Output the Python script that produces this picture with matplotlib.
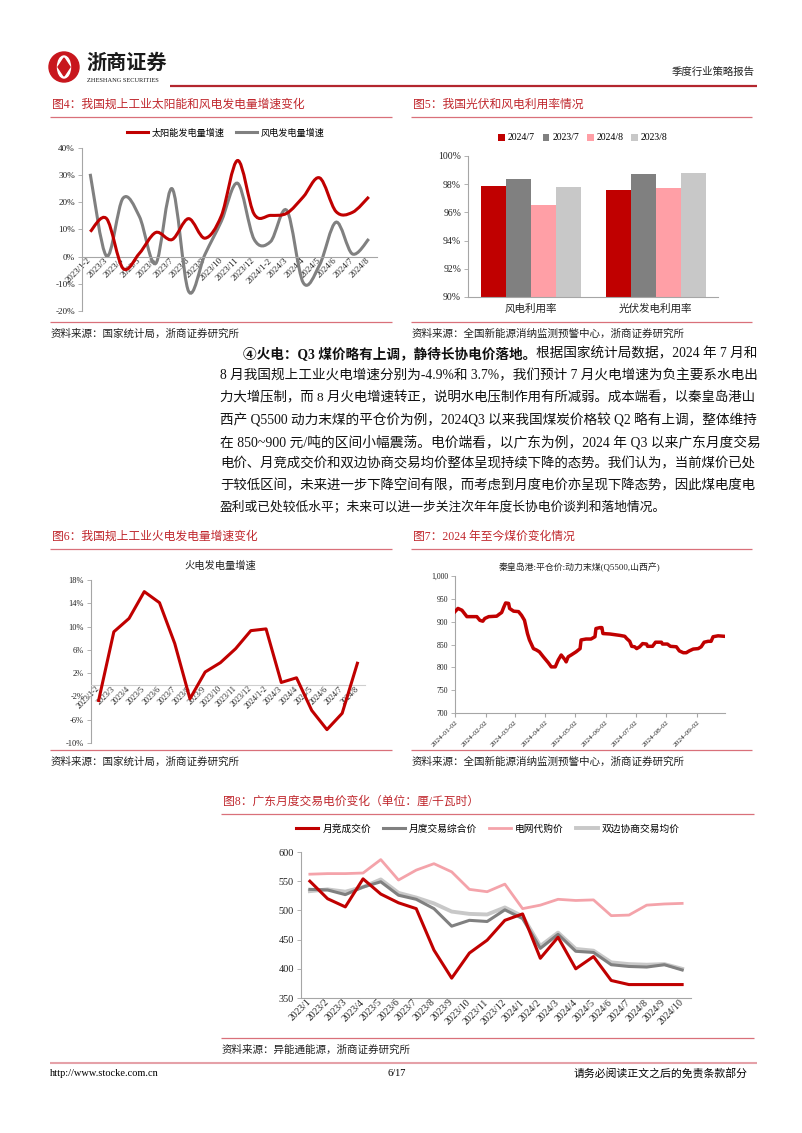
import numpy as np
import pandas as pd
import matplotlib
matplotlib.use('Agg')
import matplotlib.pyplot as plt
import matplotlib.dates as mdates
from matplotlib.path import Path
from matplotlib.patches import PathPatch, Circle, Ellipse, Polygon
from matplotlib.lines import Line2D
from matplotlib.ticker import FuncFormatter

W, H = 802, 1133
FONTS = ['Liberation Serif', 'Noto Sans CJK SC']
plt.rcParams['font.family'] = FONTS
plt.rcParams['axes.unicode_minus'] = False

RED = '#C00000'
GRAY = '#808080'
PINK = '#F4A3AA'
LGRAY = '#C8C8C8'
TITLE_RED = '#C0272D'
RULE = '#D9707A'
AXC = '#A6A6A6'

# ---------------- data ----------------
# fig 4: solar / wind generation growth (%)
months_a = ['2023/1-2', '2023/3', '2023/4', '2023/5', '2023/6', '2023/7', '2023/8', '2023/9',
            '2023/10', '2023/11', '2023/12', '2024/1-2', '2024/3', '2024/4', '2024/5', '2024/6',
            '2024/7', '2024/8']
solar = [9.2, 14.0, -4.3, 1.2, 8.9, 6.3, 14.0, 6.8, 15.0, 35.4, 15.7, 15.2, 16.0, 22.0, 29.0,
         16.6, 16.3, 22.0]
wind = [30.5, 0.2, 21.5, 14.8, -2.5, 25.0, -12.7, 0.8, 13.0, 27.0, 6.4, 5.5, 17.0, -9.6, -3.0,
        12.7, 1.0, 6.5]

# fig 5: utilisation rate (%)
util_cats = ['风电利用率', '光伏发电利用率']
util_names = ['2024/7', '2023/7', '2024/8', '2023/8']
util_2024_7 = [97.9, 97.6]
util_2023_7 = [98.4, 98.7]
util_2024_8 = [96.5, 97.7]
util_2023_8 = [97.8, 98.8]

# fig 6: thermal generation growth (%)
thermal = [-2.7, 9.1, 11.4, 16.0, 14.1, 7.1, -2.4, 2.2, 3.8, 6.2, 9.3, 9.6, 0.4, 1.2, -4.4,
           -7.7, -4.9, 3.7]

# fig 7: Qinhuangdao coal price
coal_dates = ['01-02', '01-05', '01-09', '01-14', '01-24', '01-27', '01-30', '02-01', '02-05',
              '02-13', '02-16', '02-18', '02-20', '02-22', '02-25', '02-26', '03-01', '03-06',
              '03-09', '03-12', '03-15', '03-17', '03-21', '03-24', '03-27', '03-31', '04-05',
              '04-08', '04-12', '04-15', '04-18', '04-22', '04-23', '04-25', '04-28', '05-03',
              '05-07', '05-08', '05-13', '05-18', '05-22', '05-23', '05-27', '05-29', '05-30',
              '06-06', '06-16', '06-21', '06-23', '06-26', '06-28', '07-01', '07-03', '07-06',
              '07-09', '07-13', '07-14', '07-19', '07-22', '07-28', '07-29', '08-03', '08-06',
              '08-12', '08-15', '08-19', '08-22', '08-25', '08-29', '09-03', '09-06', '09-09',
              '09-13', '09-16', '09-18', '09-23', '09-29']
coal_price = [922, 929, 925, 911, 911, 903, 901, 907, 911, 912, 917, 920, 931, 941, 940, 929,
              923, 922, 914, 903, 874, 860, 841, 838, 834, 823, 810, 801, 801, 816, 827, 816,
              812, 823, 827, 834, 841, 860, 862, 862, 867, 885, 887, 887, 874, 873, 870, 868,
              863, 857, 846, 845, 841, 845, 852, 851, 846, 846, 855, 855, 851, 851, 846, 845,
              836, 832, 832, 836, 840, 841, 845, 855, 857, 857, 867, 869, 868]
coal_ticks = ['2024-01-02', '2024-02-02', '2024-03-02', '2024-04-02', '2024-05-02',
              '2024-06-02', '2024-07-02', '2024-08-02', '2024-09-02']

# fig 8: Guangdong monthly power prices
months_b = ['2023/1', '2023/2', '2023/3', '2023/4', '2023/5', '2023/6', '2023/7', '2023/8',
            '2023/9', '2023/10', '2023/11', '2023/12', '2024/1', '2024/2', '2024/3', '2024/4',
            '2024/5', '2024/6', '2024/7', '2024/8', '2024/9', '2024/10']
bid_price = [550, 520, 506, 554, 528, 513, 503, 432, 384, 427, 449, 483, 494, 418, 454, 400,
             421, 380, 373, 373, 373, 373]
mix_price = [536, 535, 527, 540, 549, 526, 519, 503, 473, 483, 481, 501, 486, 435, 459, 430,
             428, 407, 404, 403, 407, 398]
grid_price = [562, 563, 563, 564, 587, 552, 569, 580, 566, 536, 532, 545, 503, 509, 519, 517,
              518, 491, 492, 509, 511, 512]
bilat_price = [533, 536, 532, 540, 553, 530, 522, 512, 498, 494, 493, 505, 490, 439, 462, 434,
               431, 411, 408, 407, 408, 400]

paragraph = [
    '8 月我国规上工业火电增速分别为-4.9%和 3.7%，我们预计 7 月火电增速为负主要系水电出',
    '力大增压制，而 8 月火电增速转正，说明水电压制作用有所减弱。成本端看，以秦皇岛港山',
    '西产 Q5500 动力末煤的平仓价为例，2024Q3 以来我国煤炭价格较 Q2 略有上调，整体维持',
    '在 850~900 元/吨的区间小幅震荡。电价端看，以广东为例，2024 年 Q3 以来广东月度交易',
    '电价、月竞成交价和双边协商交易均价整体呈现持续下降的态势。我们认为，当前煤价已处',
    '于较低区间，未来进一步下降空间有限，而考虑到月度电价亦呈现下降态势，因此煤电度电',
    '盈利或已处较低水平；未来可以进一步关注次年年度长协电价谈判和落地情况。',
]
para_bold = '④火电：Q3 煤价略有上调，静待长协电价落地。'
para_first = '根据国家统计局数据，2024 年 7 月和'

# ---------------- page ----------------
fig = plt.figure(figsize=(W / 100, H / 100), dpi=100)
page = fig.add_axes([0, 0, 1, 1])
page.set_xlim(0, W)
page.set_ylim(H, 0)
page.axis('off')


def panel(x0, y0, x1, y1):
    a = fig.add_axes([x0 / W, 1 - y1 / H, (x1 - x0) / W, (y1 - y0) / H])
    a.set_facecolor('none')
    return a


def hline(y, x0, x1, color=RULE, lw=0.9):
    page.plot([x0, x1], [y, y], color=color, lw=lw, solid_capstyle='butt')


def style(ax, fs):
    for s in ['top', 'right']:
        ax.spines[s].set_visible(False)
    for s in ['left', 'bottom']:
        ax.spines[s].set_color(AXC)
        ax.spines[s].set_linewidth(0.8)
    ax.tick_params(axis='y', colors=AXC, labelcolor='#222222', labelsize=fs, length=3, width=0.6, pad=2)
    ax.tick_params(axis='x', colors=AXC, labelcolor='#222222', length=0, pad=2)


def smooth_path(xs, ys):
    pts = np.column_stack([xs, ys]).astype(float)
    n = len(pts)
    verts = [pts[0]]
    codes = [Path.MOVETO]
    for i in range(n - 1):
        p0 = pts[max(i - 1, 0)]
        p1 = pts[i]
        p2 = pts[i + 1]
        p3 = pts[min(i + 2, n - 1)]
        verts += [p1 + (p2 - p0) / 6, p2 - (p3 - p1) / 6, p2]
        codes += [Path.CURVE4] * 3
    return Path(verts, codes)


pct = FuncFormatter(lambda v, p: f'{v:.0f}%')

# header
page.add_patch(Circle((64, 67), 15, color='#C8161D'))
page.add_patch(Ellipse((64, 67), 13, 22, color='white'))
page.add_patch(Polygon([[64, 58], [70, 67], [64, 76], [58, 67]], closed=True, color='#C8161D'))
page.text(86, 64, '浙商证券', fontsize=14.5, fontweight='bold', color='#1a1a1a', va='center')
page.text(87, 81, 'ZHESHANG SECURITIES', fontsize=4.6, color='#1a1a1a', va='center',
          family='Liberation Serif')
hline(85.5, 170, 757, color='#B3262E', lw=1.6)
page.text(755, 72, '季度行业策略报告', fontsize=7.5, ha='right', va='center', color='#222222')

# figure titles / rules / sources
for x0, x1, y_t, y_b, title, src in [
    (50, 392, 105, 322, '图4：我国规上工业太阳能和风电发电量增速变化', '资料来源：国家统计局，浙商证券研究所'),
    (411, 752, 105, 322, '图5：我国光伏和风电利用率情况', '资料来源：全国新能源消纳监测预警中心，浙商证券研究所'),
    (50, 392, 537, 750, '图6：我国规上工业火电发电量增速变化', '资料来源：国家统计局，浙商证券研究所'),
    (411, 752, 537, 750, '图7：2024 年至今煤价变化情况', '资料来源：全国新能源消纳监测预警中心，浙商证券研究所'),
    (221, 754, 802, 1038, '图8：广东月度交易电价变化（单位：厘/千瓦时）', '资料来源：异能通能源，浙商证券研究所'),
]:
    page.text(x0 + 2, y_t, title, fontsize=8.5, color=TITLE_RED, va='center')
    hline(y_t + 11.5, x0, x1)
    hline(y_b, x0, x1)
    page.text(x0 + 1, y_b + 11.5, src, fontsize=7.6, color='#222222', va='center')

# paragraph
r = fig.canvas.get_renderer()
PFS = 9.2
LEFT, RIGHT = 220, 757
y0, dy = 354, 22.0
tb = page.text(243, y0, para_bold, fontsize=PFS, fontweight='bold', va='center', color='#111111')
tr = page.text(0, y0, para_first, fontsize=PFS, va='center', color='#111111')
w1 = tb.get_window_extent(renderer=r).width
w2 = tr.get_window_extent(renderer=r).width
k = min(max((RIGHT - 243) / (w1 + w2), 0.92), 1.08)
tb.set_fontsize(PFS * k)
tr.set_fontsize(PFS * k)
tr.set_x(243 + tb.get_window_extent(renderer=r).width)
for i, line in enumerate(paragraph):
    t = page.text(LEFT, y0 + dy * (i + 1), line, fontsize=PFS, va='center', color='#111111')
    if i < len(paragraph) - 1:
        w = t.get_window_extent(renderer=r).width
        t.set_fontsize(PFS * min(max((RIGHT - LEFT) / w, 0.92), 1.08))

# footer
hline(1063, 50, 757, color='#E5A1A8', lw=1.5)
page.text(50, 1073, 'http://www.stocke.com.cn', fontsize=7.5, va='center', family='Liberation Serif')
page.text(397, 1073, '6/17', fontsize=7.5, va='center', ha='center', family='Liberation Serif')
page.text(748, 1073, '请务必阅读正文之后的免责条款部分', fontsize=7.8, va='center', ha='right')

# ---------------- fig 4 ----------------
ax4 = panel(82, 148, 377, 311)
xa = np.arange(len(months_a))
ax4.add_patch(PathPatch(smooth_path(xa, solar), fill=False, ec=RED, lw=2.2, zorder=3))
ax4.add_patch(PathPatch(smooth_path(xa, wind), fill=False, ec=GRAY, lw=2.2, zorder=2))
ax4.set_xlim(-0.5, len(months_a) - 0.5)
ax4.set_ylim(-20, 40)
ax4.set_yticks(np.arange(-20, 41, 10))
ax4.yaxis.set_major_formatter(pct)
style(ax4, 6.6)
ax4.spines['bottom'].set_position(('data', 0))
ax4.set_xticks(xa)
ax4.set_xticklabels(months_a, rotation=45, ha='right', va='center', rotation_mode='anchor', fontsize=6.4)
ax4.legend([Line2D([], [], color=RED, lw=2.2), Line2D([], [], color=GRAY, lw=2.2)],
           ['太阳能发电量增速', '风电发电量增速'], loc='center', ncol=2, frameon=False,
           bbox_to_anchor=(226 / W, 1 - 133 / H), bbox_transform=fig.transFigure,
           fontsize=6.6, handlelength=2.3, handletextpad=0.4, columnspacing=1.2)

# ---------------- fig 5 ----------------
ax5 = panel(468, 156, 718, 297)
xb = np.arange(len(util_cats))
for j, (vals, col) in enumerate(zip([util_2024_7, util_2023_7, util_2024_8, util_2023_8],
                                     [RED, GRAY, '#FF9FA6', LGRAY])):
    ax5.bar(xb + (j - 1.5) * 0.2, vals, width=0.2, color=col, label=util_names[j], zorder=2)
ax5.set_xlim(-0.5, 1.5)
ax5.set_ylim(90, 100)
ax5.set_yticks(np.arange(90, 100.1, 2))
ax5.yaxis.set_major_formatter(pct)
style(ax5, 7)
ax5.set_xticks(xb)
ax5.set_xticklabels(util_cats, fontsize=7.6)
ax5.tick_params(axis='x', pad=5)
ax5.legend(loc='center', ncol=4, frameon=False, bbox_to_anchor=(583 / W, 1 - 138 / H),
           bbox_transform=fig.transFigure, fontsize=7, handlelength=0.7, handleheight=0.7,
           handletextpad=0.3, columnspacing=0.8)

# ---------------- fig 6 ----------------
ax6 = panel(91, 580, 365, 743)
ax6.plot(xa, thermal, color=RED, lw=2.2, zorder=3)
ax6.set_xlim(-0.5, len(months_a) - 0.5)
ax6.set_ylim(-10, 18)
ax6.set_yticks([-10, -6, -2, 2, 6, 10, 14, 18])
ax6.yaxis.set_major_formatter(pct)
style(ax6, 6)
ax6.spines['bottom'].set_position(('data', 0))
ax6.spines['bottom'].set_color('#CFCFCF')
ax6.set_xticks(xa)
ax6.set_xticklabels(months_a, rotation=45, ha='right', va='center', rotation_mode='anchor', fontsize=5.8)
page.text(220, 566, '火电发电量增速', fontsize=7.4, ha='center', va='center', color='#222222')

# ---------------- fig 7 ----------------
ax7 = panel(455, 576, 725, 713)
cd = pd.to_datetime(['2024-' + d for d in coal_dates])
ax7.plot(cd, coal_price, color=RED, lw=2.5, zorder=3)
ax7.set_xlim(pd.Timestamp('2024-01-02'), pd.Timestamp('2024-09-30'))
ax7.set_ylim(700, 1000)
ax7.set_yticks(np.arange(700, 1001, 50))
ax7.yaxis.set_major_formatter(FuncFormatter(lambda v, p: f'{v:,.0f}'))
style(ax7, 5.6)
ax7.set_xticks(pd.to_datetime(coal_ticks))
ax7.xaxis.set_major_formatter(mdates.DateFormatter('%Y-%m-%d'))
ax7.tick_params(axis='x', length=3, labelsize=5.4)
for lab in ax7.get_xticklabels():
    lab.set_rotation(45)
    lab.set_ha('right')
    lab.set_rotation_mode('anchor')
page.text(580, 567, '秦皇岛港:平仓价:动力末煤(Q5500,山西产)', fontsize=6.4, ha='center', va='center',
          color='#222222')

# ---------------- fig 8 ----------------
ax8 = panel(301, 852, 691, 998)
xm = np.arange(len(months_b))
ax8.plot(xm, bid_price, color=RED, lw=2.2, label='月竞成交价', zorder=4)
ax8.plot(xm, mix_price, color=GRAY, lw=2.2, label='月度交易综合价', zorder=3)
ax8.plot(xm, grid_price, color=PINK, lw=2.0, label='电网代购价', zorder=3)
ax8.plot(xm, bilat_price, color=LGRAY, lw=2.8, label='双边协商交易均价', zorder=2)
ax8.set_xlim(-0.5, len(months_b) - 0.5)
ax8.set_ylim(350, 600)
ax8.set_yticks(np.arange(350, 601, 50))
style(ax8, 7.4)
ax8.set_xticks(xm)
ax8.set_xticklabels(months_b, rotation=45, ha='right', va='center', rotation_mode='anchor', fontsize=7)
ax8.legend(loc='center', ncol=4, frameon=False, bbox_to_anchor=(488 / W, 1 - 829 / H),
           bbox_transform=fig.transFigure, fontsize=7, handlelength=2.3, handletextpad=0.4,
           columnspacing=1.2)

fig.savefig('out.png', dpi=100)
